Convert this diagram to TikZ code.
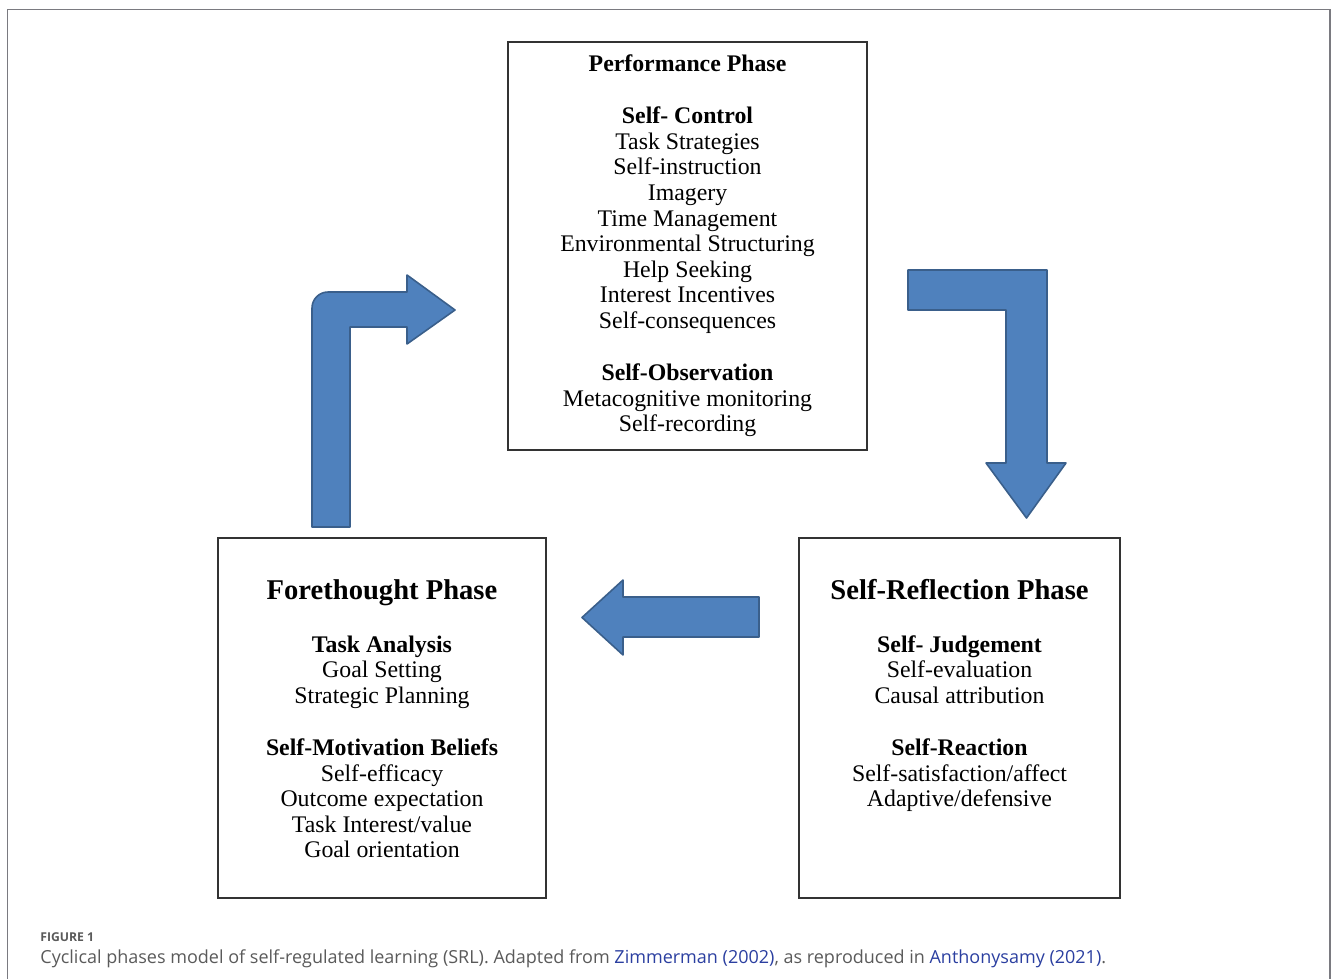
\documentclass[tikz,border=0pt]{standalone}
\usepackage{fontspec}
\setmainfont{Liberation Serif}
\newfontfamily\captionfont{Open Sans}
\definecolor{ArrowBlue}{HTML}{4F81BD}
\definecolor{ArrowEdge}{HTML}{3A5F8B}
\definecolor{FrameGray}{HTML}{7A7A80}
\definecolor{CaptionGray}{HTML}{5A5A5A}
\definecolor{LinkBlue}{HTML}{2B3FA0}
\usetikzlibrary{positioning}

\begin{document}
\begin{tikzpicture}[
  x=0.5pt, y=-0.5pt,
  phasebox/.style={
    draw=black!80, line width=1pt,
    inner sep=0pt, outer sep=0pt
  },
  boxtext/.style={
    align=center, inner sep=0pt, anchor=north,
    font=\fontsize{11.9}{12.8}\selectfont
  },
  blockarrow/.style={
    fill=ArrowBlue, draw=ArrowEdge,
    line width=0.8pt, line join=round
  }
]
  \useasboundingbox (0,0) rectangle (1331,979);

  % Outer frame (open at the bottom)
  \draw[FrameGray, line width=0.75pt]
    (7.5,979) -- (7.5,9.5) -- (1330,9.5) -- (1330,979);

  % Phase boxes
  \node[phasebox, minimum width=179.5pt, minimum height=204pt]
    (perfbox) at (687.5,246) {};
  \node[phasebox, minimum width=164pt, minimum height=180pt]
    (forebox) at (382,718) {};
  \node[phasebox, minimum width=160.5pt, minimum height=180pt]
    (reflbox) at (959.5,718) {};

  % Performance phase text
  \node[boxtext, below=6.3pt of perfbox.north] (perftext)
    {\textbf{Performance Phase}\\[13.2pt]
     \textbf{Self- Control}\\
     Task Strategies\\
     Self-instruction\\
     Imagery\\
     Time Management\\
     Environmental Structuring\\
     Help Seeking\\
     Interest Incentives\\
     Self-consequences\\[13.2pt]
     \textbf{Self-Observation}\\
     Metacognitive monitoring\\
     Self-recording};

  % Forethought phase text
  \node[boxtext, below=20.5pt of forebox.north] (foretext)
    {{\fontsize{14.3}{12.8}\selectfont\bfseries Forethought Phase}\\[13.7pt]
     \textbf{Task Analysis}\\
     Goal Setting\\
     Strategic Planning\\[13.2pt]
     \textbf{Self-Motivation Beliefs}\\
     Self-efficacy\\
     Outcome expectation\\
     Task Interest/value\\
     Goal orientation};

  % Self-reflection phase text
  \node[boxtext, below=20.4pt of reflbox.north] (refltext)
    {{\fontsize{14.3}{12.8}\selectfont\bfseries Self-Reflection Phase}\\[13.7pt]
     \textbf{Self- Judgement}\\
     Self-evaluation\\
     Causal attribution\\[13.2pt]
     \textbf{Self-Reaction}\\
     Self-satisfaction/affect\\
     Adaptive/defensive};

  % Bent arrow: forethought -> performance
  \draw[blockarrow]
    (312,527) [rounded corners=8pt] -- (312,292)
    [sharp corners] -- (407,292) -- (407,275) -- (455,310) -- (407,344)
    -- (407,327) -- (350,327) -- (350,527) -- cycle;

  % Bent arrow: performance -> self-reflection
  \draw[blockarrow]
    (908,270) -- (1047,270) -- (1047,463) -- (1066,463)
    -- (1026.5,518) -- (986,463) -- (1006,463)
    -- (1006,310) -- (908,310) -- cycle;

  % Straight arrow: self-reflection -> forethought
  \draw[blockarrow]
    (759,597) -- (623,597) -- (623,580) -- (582,617.5)
    -- (623,655) -- (623,637) -- (759,637) -- cycle;

  % Caption
  \node[anchor=base west, inner sep=0pt, text=CaptionGray,
        font=\captionfont\bfseries\fontsize{6.1}{8}\selectfont]
    (figlabel) at (40,941) {FIGURE 1};
  \node[anchor=base west, inner sep=0pt, text=CaptionGray,
        font=\captionfont\fontsize{9}{11}\selectfont]
    (figcaption) at (40,963)
    {Cyclical phases model of self-regulated learning (SRL). Adapted from
     \textcolor{LinkBlue}{Zimmerman (2002)}, as reproduced in
     \textcolor{LinkBlue}{Anthonysamy (2021)}.};
\end{tikzpicture}
\end{document}
